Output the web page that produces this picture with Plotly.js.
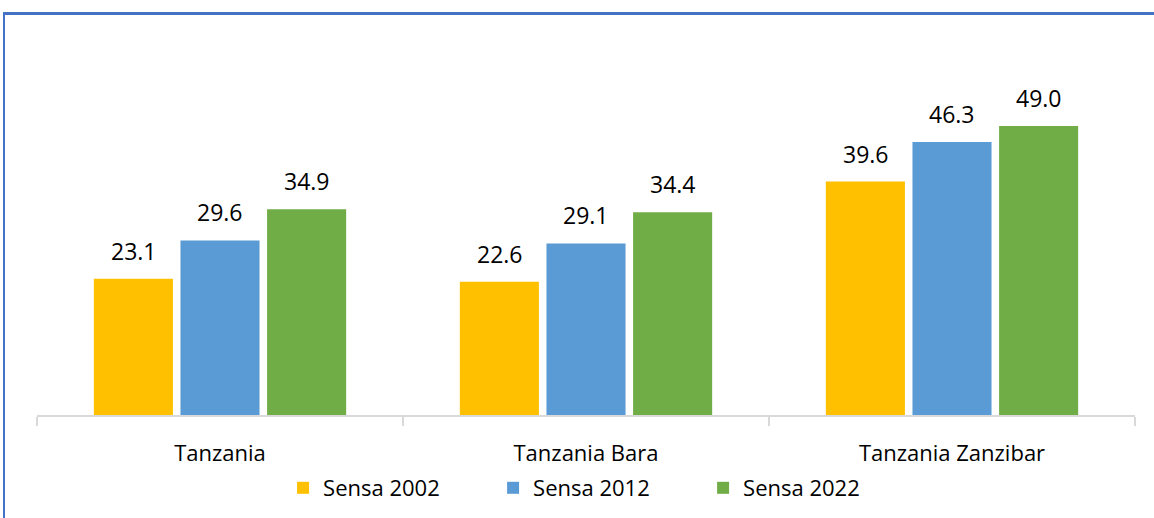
<!DOCTYPE html>
<html>
<head>
<meta charset="utf-8">
<script src="https://cdn.plot.ly/plotly-3.0.1.min.js"></script>
<style>
  html, body { margin: 0; padding: 0; background: #fff; }
  #chart { width: 1154px; height: 518px; position: absolute; left: 0; top: 0; }
  #frame { position: absolute; left: 3px; top: 12px; width: 1200px; height: 600px;
           border-left: 2px solid #4472C4; border-top: 3px solid #4472C4; pointer-events: none; }
</style>
</head>
<body>
<div id="chart"></div>
<div id="frame"></div>
<script>
const categories = ['Tanzania', 'Tanzania Bara', 'Tanzania Zanzibar'];
const seriesNames = ['Sensa 2002', 'Sensa 2012', 'Sensa 2022'];
const sensa2002 = [23.1, 22.6, 39.6];
const sensa2012 = [29.6, 29.1, 46.3];
const sensa2022 = [34.9, 34.4, 49.0];
const colors = ['#FFC000', '#5B9BD5', '#70AD47'];

const allSeries = [sensa2002, sensa2012, sensa2022];
const font = "Open Sans, Noto Sans, sans-serif";

const traces = allSeries.map((vals, i) => ({
  type: 'bar',
  name: seriesNames[i],
  x: categories,
  y: vals,
  marker: { color: colors[i] },
  hoverinfo: 'skip'
}));

const shifts = [-86.5, 0, 86.5];
const annotations = [];
allSeries.forEach((vals, i) => {
  vals.forEach((v, j) => {
    annotations.push({
      x: categories[j], y: v, xref: 'x', yref: 'y',
      text: v.toFixed(1), showarrow: false,
      xshift: shifts[i], yshift: 10, yanchor: 'bottom',
      font: { family: font, size: 23, color: '#000' }
    });
  });
});

const layout = {
  width: 1154, height: 518,
  margin: { l: 37, r: 19, t: 40, b: 103, autoexpand: false },
  paper_bgcolor: '#fff', plot_bgcolor: '#fff',
  barmode: 'group',
  bargap: 0.29,
  bargroupgap: 0.087,
  showlegend: true,
  legend: {
    orientation: 'h', x: 0.511, xanchor: 'center',
    yref: 'container', y: 30 / 518, yanchor: 'middle',
    font: { family: font, size: 22, color: '#000' },
    entrywidth: 165, entrywidthmode: 'pixels',
    itemclick: false, itemdoubleclick: false
  },
  xaxis: {
    type: 'category', automargin: false,
    showline: true, linecolor: '#D9D9D9', linewidth: 2,
    ticks: 'outside', tickson: 'boundaries', ticklen: 9, tickcolor: '#D9D9D9', tickwidth: 2,
    tickfont: { family: font, size: 22, color: '#000' },
    ticklabelstandoff: 18,
    showgrid: false, zeroline: false, fixedrange: true
  },
  yaxis: {
    range: [0, 63.6], automargin: false,
    visible: false, showgrid: false, zeroline: false, fixedrange: true
  },
  annotations: annotations
};

Plotly.newPlot('chart', traces, layout, { displayModeBar: false, staticPlot: true });
</script>
</body>
</html>
